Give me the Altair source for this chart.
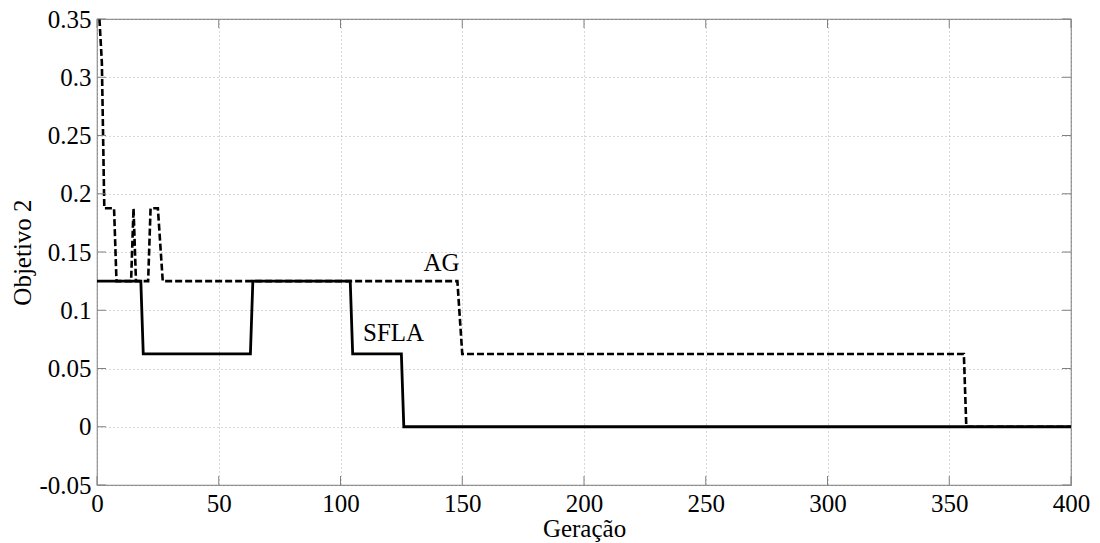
import altair as alt
import pandas as pd

# SFLA (solid)
sfla_gen = [0, 18, 19, 63, 64, 104, 105, 125, 126, 400]
sfla_val = [0.125, 0.125, 0.0625, 0.0625, 0.125, 0.125, 0.0625, 0.0625, 0.0, 0.0]

# AG (dashed)
ag_gen = [1, 2, 3, 7, 8, 14, 15, 16, 21, 22, 25, 27, 148, 150, 356, 357, 400]
ag_val = [0.35, 0.3125, 0.1875, 0.1875, 0.125, 0.125, 0.1875, 0.125, 0.125,
          0.1875, 0.1875, 0.125, 0.125, 0.0625, 0.0625, 0.0, 0.0]

x_ticks = [0, 50, 100, 150, 200, 250, 300, 350, 400]
y_ticks = [-0.05, 0.0, 0.05, 0.1, 0.15, 0.2, 0.25, 0.3, 0.35]

label_text = ["AG", "SFLA"]
label_gen = [141.5, 121.8]
label_val = [0.1406, 0.0805]

FONT = "Liberation Serif"
W, H = 974, 466

sfla = pd.DataFrame({"g": sfla_gen, "v": sfla_val})
ag = pd.DataFrame({"g": ag_gen, "v": ag_val})
labels = pd.DataFrame({"t": label_text, "g": label_gen, "v": label_val})
xt = pd.DataFrame({"g": x_ticks})
yt = pd.DataFrame({"v": y_ticks})

xscale = alt.Scale(domain=[0, 400], nice=False, zero=False)
yscale = alt.Scale(domain=[-0.05, 0.35], nice=False, zero=False)

xaxis = alt.Axis(values=x_ticks, title="Geração", grid=True, ticks=False,
                 domain=False, labelPadding=6, titleY=43, titleBaseline="middle",
                 labelFlush=False, labelFont=FONT, titleFont=FONT,
                 labelFontSize=25, titleFontSize=25)
yaxis = alt.Axis(values=y_ticks, title="Objetivo 2", grid=True, ticks=False,
                 domain=False, labelPadding=6, titleX=-62, titleY=H / 2,
                 labelFont=FONT, titleFont=FONT, labelFontSize=25, titleFontSize=25,
                 labelExpr="replace(format(datum.value, '.2~f'), '\u2212', '-')")

X = alt.X("g:Q", scale=xscale, axis=xaxis)
Y = alt.Y("v:Q", scale=yscale, axis=yaxis)

base_ag = alt.Chart(ag).mark_line(color="black", strokeWidth=2.6, strokeDash=[7, 3]).encode(
    x=X, y=Y)
line_sfla = alt.Chart(sfla).mark_line(color="black", strokeWidth=2.8).encode(
    x=X, y=Y)
text = alt.Chart(labels).mark_text(font=FONT, fontSize=25, color="black").encode(
    x=X, y=Y, text="t:N")

tick_col = "#808080"
left_ticks = alt.Chart(yt).mark_rule(color=tick_col, strokeWidth=1).encode(
    y=Y, x=alt.value(0), x2=alt.value(9))
right_ticks = alt.Chart(yt).mark_rule(color=tick_col, strokeWidth=1).encode(
    y=Y, x=alt.value(W - 9), x2=alt.value(W))
bottom_ticks = alt.Chart(xt).mark_rule(color=tick_col, strokeWidth=1).encode(
    x=X, y=alt.value(H - 9), y2=alt.value(H))
top_ticks = alt.Chart(xt).mark_rule(color=tick_col, strokeWidth=1).encode(
    x=X, y=alt.value(0), y2=alt.value(9))

chart = alt.layer(
    base_ag, left_ticks, right_ticks, bottom_ticks, top_ticks, line_sfla, text
).properties(
    width=W, height=H,
    padding={"left": 97, "top": 19, "right": 29, "bottom": 58},
    autosize=alt.AutoSizeParams(type="none"),
    background="white",
).configure(
    font=FONT,
).configure_view(
    stroke="#888888", strokeWidth=1.2,
).configure_axis(
    labelFont=FONT, labelFontSize=25, labelColor="black",
    titleFont=FONT, titleFontSize=25, titleFontWeight="normal", titleColor="black",
    gridColor="#b0b0b0", gridDash=[1, 3], gridWidth=1,
)

chart.save("out.html", embed_options={"renderer": "svg", "actions": False})
